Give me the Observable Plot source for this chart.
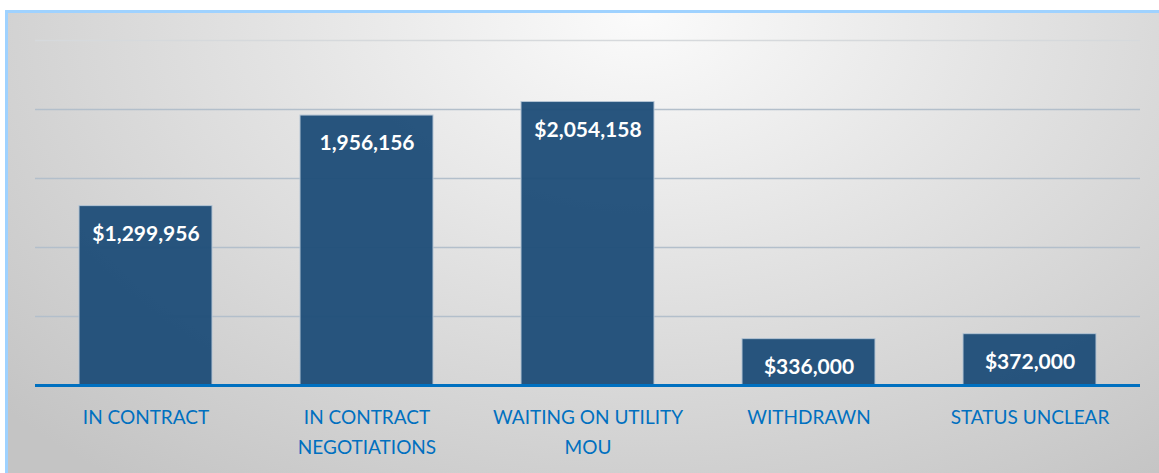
<!DOCTYPE html>
<html>
<head>
<meta charset="utf-8">
<script src="https://cdn.jsdelivr.net/npm/d3@7"></script>
<script src="https://cdn.jsdelivr.net/npm/@observablehq/plot@0.6"></script>
<style>
  html, body { margin: 0; padding: 0; background: #ffffff; }
  #wrap { position: relative; width: 1159px; height: 473px; overflow: hidden; }
  #frame {
    position: absolute; left: 5px; top: 10px; width: 1151px; height: 470px;
    border: 3px solid #9fd2ff;
    background: radial-gradient(ellipse 75% 125% at 55% 0%, #fbfbfb 0%, #e2e2e2 45%, #c4c4c4 100%);
  }
  #chart { position: absolute; left: 0; top: 0; }
  g[aria-label="values"] { filter: drop-shadow(1px 1px 1px rgba(0,0,0,0.65)); }
</style>
</head>
<body>
<div id="wrap"><div id="frame"></div><div id="chart"></div></div>
<script>
const categories = ["IN CONTRACT", "IN CONTRACT NEGOTIATIONS", "WAITING ON UTILITY MOU", "WITHDRAWN", "STATUS UNCLEAR"];
const tickLabels = ["IN CONTRACT", "IN CONTRACT\nNEGOTIATIONS", "WAITING ON UTILITY\nMOU", "WITHDRAWN", "STATUS UNCLEAR"];
const values = [1299956, 1956156, 2054158, 336000, 372000];
const valueLabels = ["$1,299,956", "1,956,156", "$2,054,158", "$336,000", "$372,000"];
const gridTicks = [500000, 1000000, 1500000, 2000000, 2500000];

const data = categories.map((c, i) => ({cat: c, value: values[i], label: valueLabels[i], tick: tickLabels[i]}));

const chart = Plot.plot({
  width: 1159,
  height: 473,
  marginLeft: 35,
  marginRight: 19,
  marginTop: 40,
  marginBottom: 88,
  style: {background: "transparent", fontFamily: "Lato, 'Open Sans', sans-serif"},
  x: {domain: categories, paddingInner: 0.4, paddingOuter: 0.2, axis: null},
  y: {domain: [0, 2500000], axis: null},
  marks: [
    Plot.ruleY(gridTicks.slice(0, 4), {stroke: "#b3bfcb", strokeWidth: 1.5}),
    Plot.ruleY(gridTicks.slice(4), {stroke: "#d6d9dc", strokeWidth: 1.5}),
    Plot.barY(data, {x: "cat", y: "value", fill: "#1f4e79", fillOpacity: 0.96, stroke: "#b4c4d4", strokeWidth: 1}),
    Plot.ruleY([0], {stroke: "#0070c0", strokeWidth: 3}),
    Plot.text(data, {x: "cat", y: "value", text: "label", dy: 28, fill: "white", fontWeight: "bold", fontSize: 21, ariaLabel: "values"}),
    Plot.text(data, {x: "cat", y: 0, text: "tick", lineAnchor: "top", dy: 17, lineHeight: 1.58, fill: "#0070c0", fontSize: 19})
  ]
});
document.getElementById("chart").appendChild(chart);
</script>
</body>
</html>
